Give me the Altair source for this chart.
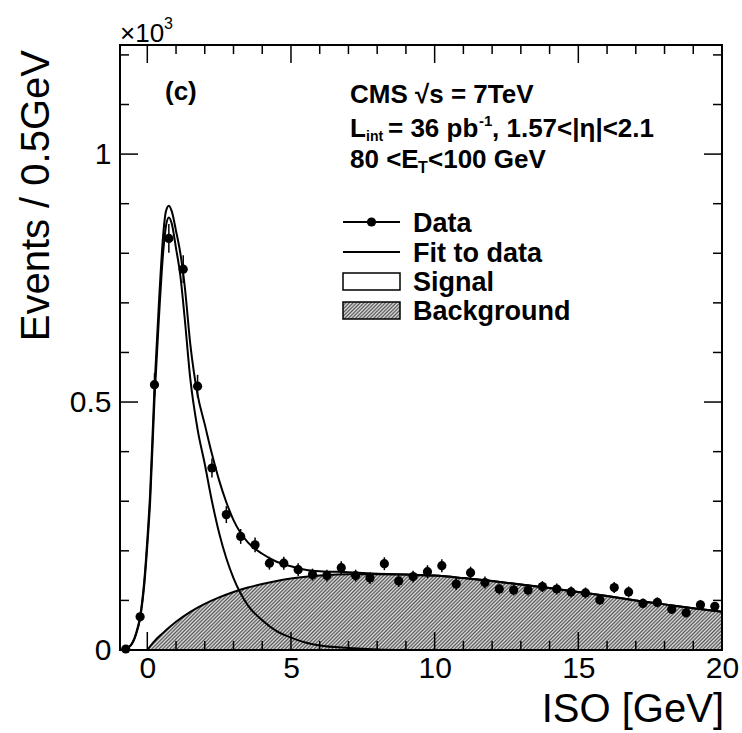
import altair as alt
import pandas as pd

# ---------------- data (units of 10^3 events) ----------------
iso_bins = [-0.75, -0.25, 0.25, 0.75, 1.25, 1.75, 2.25, 2.75, 3.25, 3.75,
            4.25, 4.75, 5.25, 5.75, 6.25, 6.75, 7.25, 7.75, 8.25, 8.75,
            9.25, 9.75, 10.25, 10.75, 11.25, 11.75, 12.25, 12.75, 13.25, 13.75,
            14.25, 14.75, 15.25, 15.75, 16.25, 16.75, 17.25, 17.75, 18.25, 18.75,
            19.25, 19.75]
events = [0.002, 0.067, 0.535, 0.830, 0.768, 0.532, 0.367, 0.273, 0.229, 0.212,
          0.175, 0.175, 0.162, 0.152, 0.150, 0.166, 0.150, 0.145, 0.174, 0.139,
          0.148, 0.158, 0.170, 0.133, 0.156, 0.136, 0.123, 0.121, 0.121, 0.128,
          0.123, 0.117, 0.115, 0.101, 0.126, 0.117, 0.094, 0.096, 0.082, 0.075,
          0.091, 0.088]
errors = [0.003, 0.008, 0.023, 0.029, 0.028, 0.023, 0.019, 0.017, 0.015, 0.015,
          0.013, 0.013, 0.013, 0.012, 0.012, 0.013, 0.012, 0.012, 0.013, 0.012,
          0.012, 0.013, 0.013, 0.012, 0.012, 0.012, 0.011, 0.011, 0.011, 0.011,
          0.011, 0.011, 0.011, 0.010, 0.011, 0.011, 0.010, 0.010, 0.009, 0.009,
          0.010, 0.009]

signal_x = [-0.9, -0.6, -0.4, -0.25, -0.1, 0.0, 0.1, 0.25, 0.4, 0.55,
            0.65, 0.75, 0.85, 1.0, 1.15, 1.3, 1.5, 1.75, 2.0, 2.25,
            2.5, 2.75, 3.0, 3.5, 4.0, 4.5, 5.0, 5.5, 6.0, 7.0,
            8.0, 9.0]
signal_y = [0.0, 0.008, 0.03, 0.064, 0.135, 0.21, 0.30, 0.505, 0.665, 0.80,
            0.855, 0.872, 0.86, 0.81, 0.755, 0.67, 0.545, 0.445, 0.375, 0.30,
            0.236, 0.185, 0.145, 0.09, 0.06, 0.038, 0.025, 0.015, 0.009, 0.004,
            0.001, 0.0]

fit_x = [-0.9, -0.6, -0.4, -0.25, -0.1, 0.0, 0.1, 0.25, 0.4, 0.55,
         0.65, 0.75, 0.85, 1.0, 1.15, 1.3, 1.5, 1.75, 2.0, 2.25,
         2.5, 2.75, 3.0, 3.5, 4.0, 4.5, 5.0, 5.5, 6.0, 7.0,
         8.0, 9.0, 10.0, 11.0, 12.0, 13.0, 14.0, 15.0, 16.0, 17.0,
         18.0, 19.0, 20.0]
fit_y = [0.0, 0.008, 0.032, 0.068, 0.143, 0.222, 0.318, 0.53, 0.695, 0.835,
         0.885, 0.896, 0.885, 0.845, 0.80, 0.735, 0.615, 0.515, 0.455, 0.395,
         0.342, 0.298, 0.262, 0.217, 0.194, 0.178, 0.169, 0.162, 0.159, 0.157,
         0.154, 0.152, 0.150, 0.145, 0.139, 0.132, 0.125, 0.117, 0.109, 0.100,
         0.092, 0.084, 0.077]

bkg_x = [0.0, 0.25, 0.5, 1.0, 1.5, 2.0, 2.5, 3.0, 3.5, 4.0, 4.5, 5.0, 6.0, 7.0,
         8.0, 9.0, 10.0, 11.0, 12.0, 13.0, 14.0, 15.0, 16.0, 17.0, 18.0, 19.0, 20.0]
bkg_y = [0.0, 0.018, 0.032, 0.057, 0.077, 0.093, 0.106, 0.117, 0.126, 0.133, 0.139,
         0.144, 0.150, 0.153, 0.153, 0.152, 0.150, 0.145, 0.139, 0.132, 0.125, 0.117,
         0.109, 0.100, 0.092, 0.084, 0.077]

x_major = [0, 5, 10, 15, 20]
x_minor = [1, 2, 3, 4, 6, 7, 8, 9, 11, 12, 13, 14, 16, 17, 18, 19]
y_major = [0.0, 0.5, 1.0]
y_minor = [0.1, 0.2, 0.3, 0.4, 0.6, 0.7, 0.8, 0.9, 1.1, 1.2]

# ---------------- layout / style ----------------
W, H = 602, 605
X_DOM = [-0.95, 20]
Y_DOM = [0, 1.22]
FONT = "Liberation Sans"
MAJ, MIN = 18, 9

xscale = alt.Scale(domain=X_DOM, nice=False, zero=False)
yscale = alt.Scale(domain=Y_DOM, nice=False, zero=False)
xaxis = alt.Axis(values=x_major, title=None, ticks=False, tickSize=0, domain=False,
                 grid=False, labelFontSize=30, labelFont=FONT, labelColor="black",
                 labelPadding=3, labelFlush=False, labelOverlap=False)
yaxis = alt.Axis(values=y_major, format="~g", title=None, ticks=False, tickSize=0,
                 domain=False, grid=False, labelFontSize=30, labelFont=FONT,
                 labelColor="black", labelPadding=9, labelFlush=False, labelOverlap=False)


def X(f="x"):
    return alt.X(f, type="quantitative", scale=xscale, axis=xaxis)


def Y(f="y"):
    return alt.Y(f, type="quantitative", scale=yscale, axis=yaxis)


def hatch(w, h, period=3.6, dark="#555555", light="#e2e2e2"):
    k = h / w
    a = (1 + k) / (1 + k * k)
    n = max(2, int(round(2 * (1 + k) * w / period)))
    stops = [{"offset": i / n, "color": dark if i % 2 == 0 else light} for i in range(n + 1)]
    return {"gradient": "linear", "x1": 0, "y1": 0, "x2": a, "y2": a * k, "stops": stops}


ONE = pd.DataFrame({"a": [0]})


def txt(s, x, y, size, bold=False, align="left", baseline="alphabetic", angle=0):
    return alt.Chart(ONE).mark_text(
        text=s, font=FONT, fontSize=size, fontWeight="bold" if bold else "normal",
        align=align, baseline=baseline, angle=angle, color="black"
    ).encode(x=alt.value(x), y=alt.value(y))


df_data = pd.DataFrame({"x": iso_bins, "y": events, "e": errors})
df_data["lo"] = df_data["y"] - df_data["e"]
df_data["hi"] = df_data["y"] + df_data["e"]
df_sig = pd.DataFrame({"x": signal_x, "y": signal_y})
df_fit = pd.DataFrame({"x": fit_x, "y": fit_y})
df_bkg = pd.DataFrame({"x": bkg_x, "y": bkg_y})

# pixel size of background area's bounding box (for the hatch orientation)
bw = (max(bkg_x) - min(bkg_x)) * W / (X_DOM[1] - X_DOM[0])
bh = max(bkg_y) * H / (Y_DOM[1] - Y_DOM[0])

layers = []

bkg_area = alt.Chart(df_bkg).mark_area(interpolate="monotone", fill=hatch(bw, bh)).encode(
    x=X(), y=Y())
bkg_line = alt.Chart(df_bkg).mark_line(interpolate="monotone", color="black", strokeWidth=2).encode(
    x=X(), y=Y())
sig_line = alt.Chart(df_sig).mark_line(interpolate="monotone", color="black", strokeWidth=2).encode(
    x=X(), y=Y())
fit_line = alt.Chart(df_fit).mark_line(interpolate="monotone", color="black", strokeWidth=2).encode(
    x=X(), y=Y())
err = alt.Chart(df_data).mark_rule(color="black", strokeWidth=1.5).encode(
    x=X(), y=Y("lo"), y2="hi")
pts = alt.Chart(df_data).mark_circle(color="black", opacity=1, size=85).encode(x=X(), y=Y())

layers += [bkg_area, bkg_line, sig_line, fit_line, err, pts]

# inward ticks on all four sides
for vals, L in ((x_major, MAJ), (x_minor, MIN)):
    d = pd.DataFrame({"x": vals})
    layers.append(alt.Chart(d).mark_rule(color="black", strokeWidth=1.5).encode(
        x=X(), y=alt.value(H), y2=alt.value(H - L)))
    layers.append(alt.Chart(d).mark_rule(color="black", strokeWidth=1.5).encode(
        x=X(), y=alt.value(0), y2=alt.value(L)))
for vals, L in ((y_major, MAJ), (y_minor, MIN)):
    d = pd.DataFrame({"y": vals})
    layers.append(alt.Chart(d).mark_rule(color="black", strokeWidth=1.5).encode(
        y=Y(), x=alt.value(0), x2=alt.value(L)))
    layers.append(alt.Chart(d).mark_rule(color="black", strokeWidth=1.5).encode(
        y=Y(), x=alt.value(W), x2=alt.value(W - L)))

# frame
layers.append(alt.Chart(ONE).mark_rect(fillOpacity=0, stroke="black", strokeWidth=2).encode(
    x=alt.value(0), x2=alt.value(W), y=alt.value(0), y2=alt.value(H)))

# axis titles and exponent
layers.append(txt("ISO [GeV]", 604, 677, 40, align="right"))
layers.append(txt("Events / 0.5GeV", -83, 5, 40, align="right", baseline="middle", angle=270))
layers.append(txt("×10", 0, -3, 26))
layers.append(txt("3", 44, -16, 16))

# header text
layers.append(txt("(c)", 45, 55, 26, bold=True))
layers.append(txt("CMS  √s = 7TeV", 230, 58, 26, bold=True))
layers.append(txt("L", 230, 92, 26, bold=True))
layers.append(txt("int", 246, 96, 14, bold=True))
layers.append(txt("= 36 pb", 268, 92, 26, bold=True))
layers.append(txt("-1", 359, 81, 15, bold=True))
layers.append(txt(", 1.57<|η|<2.1", 372, 92, 26, bold=True))
layers.append(txt("80 <E", 230, 123, 26, bold=True))
layers.append(txt("T", 298, 128, 16, bold=True))
layers.append(txt("<100 GeV", 308, 123, 26, bold=True))

# legend
LX0, LX1, TX = 223, 280, 293
layers.append(alt.Chart(ONE).mark_rule(color="black", strokeWidth=2).encode(
    x=alt.value(LX0), x2=alt.value(LX1), y=alt.value(177)))
layers.append(alt.Chart(ONE).mark_circle(color="black", opacity=1, size=85).encode(
    x=alt.value((LX0 + LX1) / 2), y=alt.value(177)))
layers.append(alt.Chart(ONE).mark_rule(color="black", strokeWidth=2).encode(
    x=alt.value(LX0), x2=alt.value(LX1), y=alt.value(207)))
layers.append(alt.Chart(ONE).mark_rect(fill="white", stroke="black", strokeWidth=1.5).encode(
    x=alt.value(LX0), x2=alt.value(LX1), y=alt.value(228), y2=alt.value(245)))
layers.append(alt.Chart(ONE).mark_rect(fill=hatch(LX1 - LX0, 17), stroke="black", strokeWidth=1.5).encode(
    x=alt.value(LX0), x2=alt.value(LX1), y=alt.value(257), y2=alt.value(274)))
layers.append(txt("Data", TX, 187, 27, bold=True))
layers.append(txt("Fit to data", TX, 217, 27, bold=True))
layers.append(txt("Signal", TX, 246, 27, bold=True))
layers.append(txt("Background", TX, 275, 27, bold=True))

chart = alt.layer(*layers).properties(
    width=W, height=H, background="white",
    autosize=alt.AutoSizeParams(type="none"),
    padding={"left": 120, "top": 45, "right": 20, "bottom": 83},
).configure_view(stroke=None)

chart.save("out.html", embed_options={"renderer": "svg", "actions": False})
